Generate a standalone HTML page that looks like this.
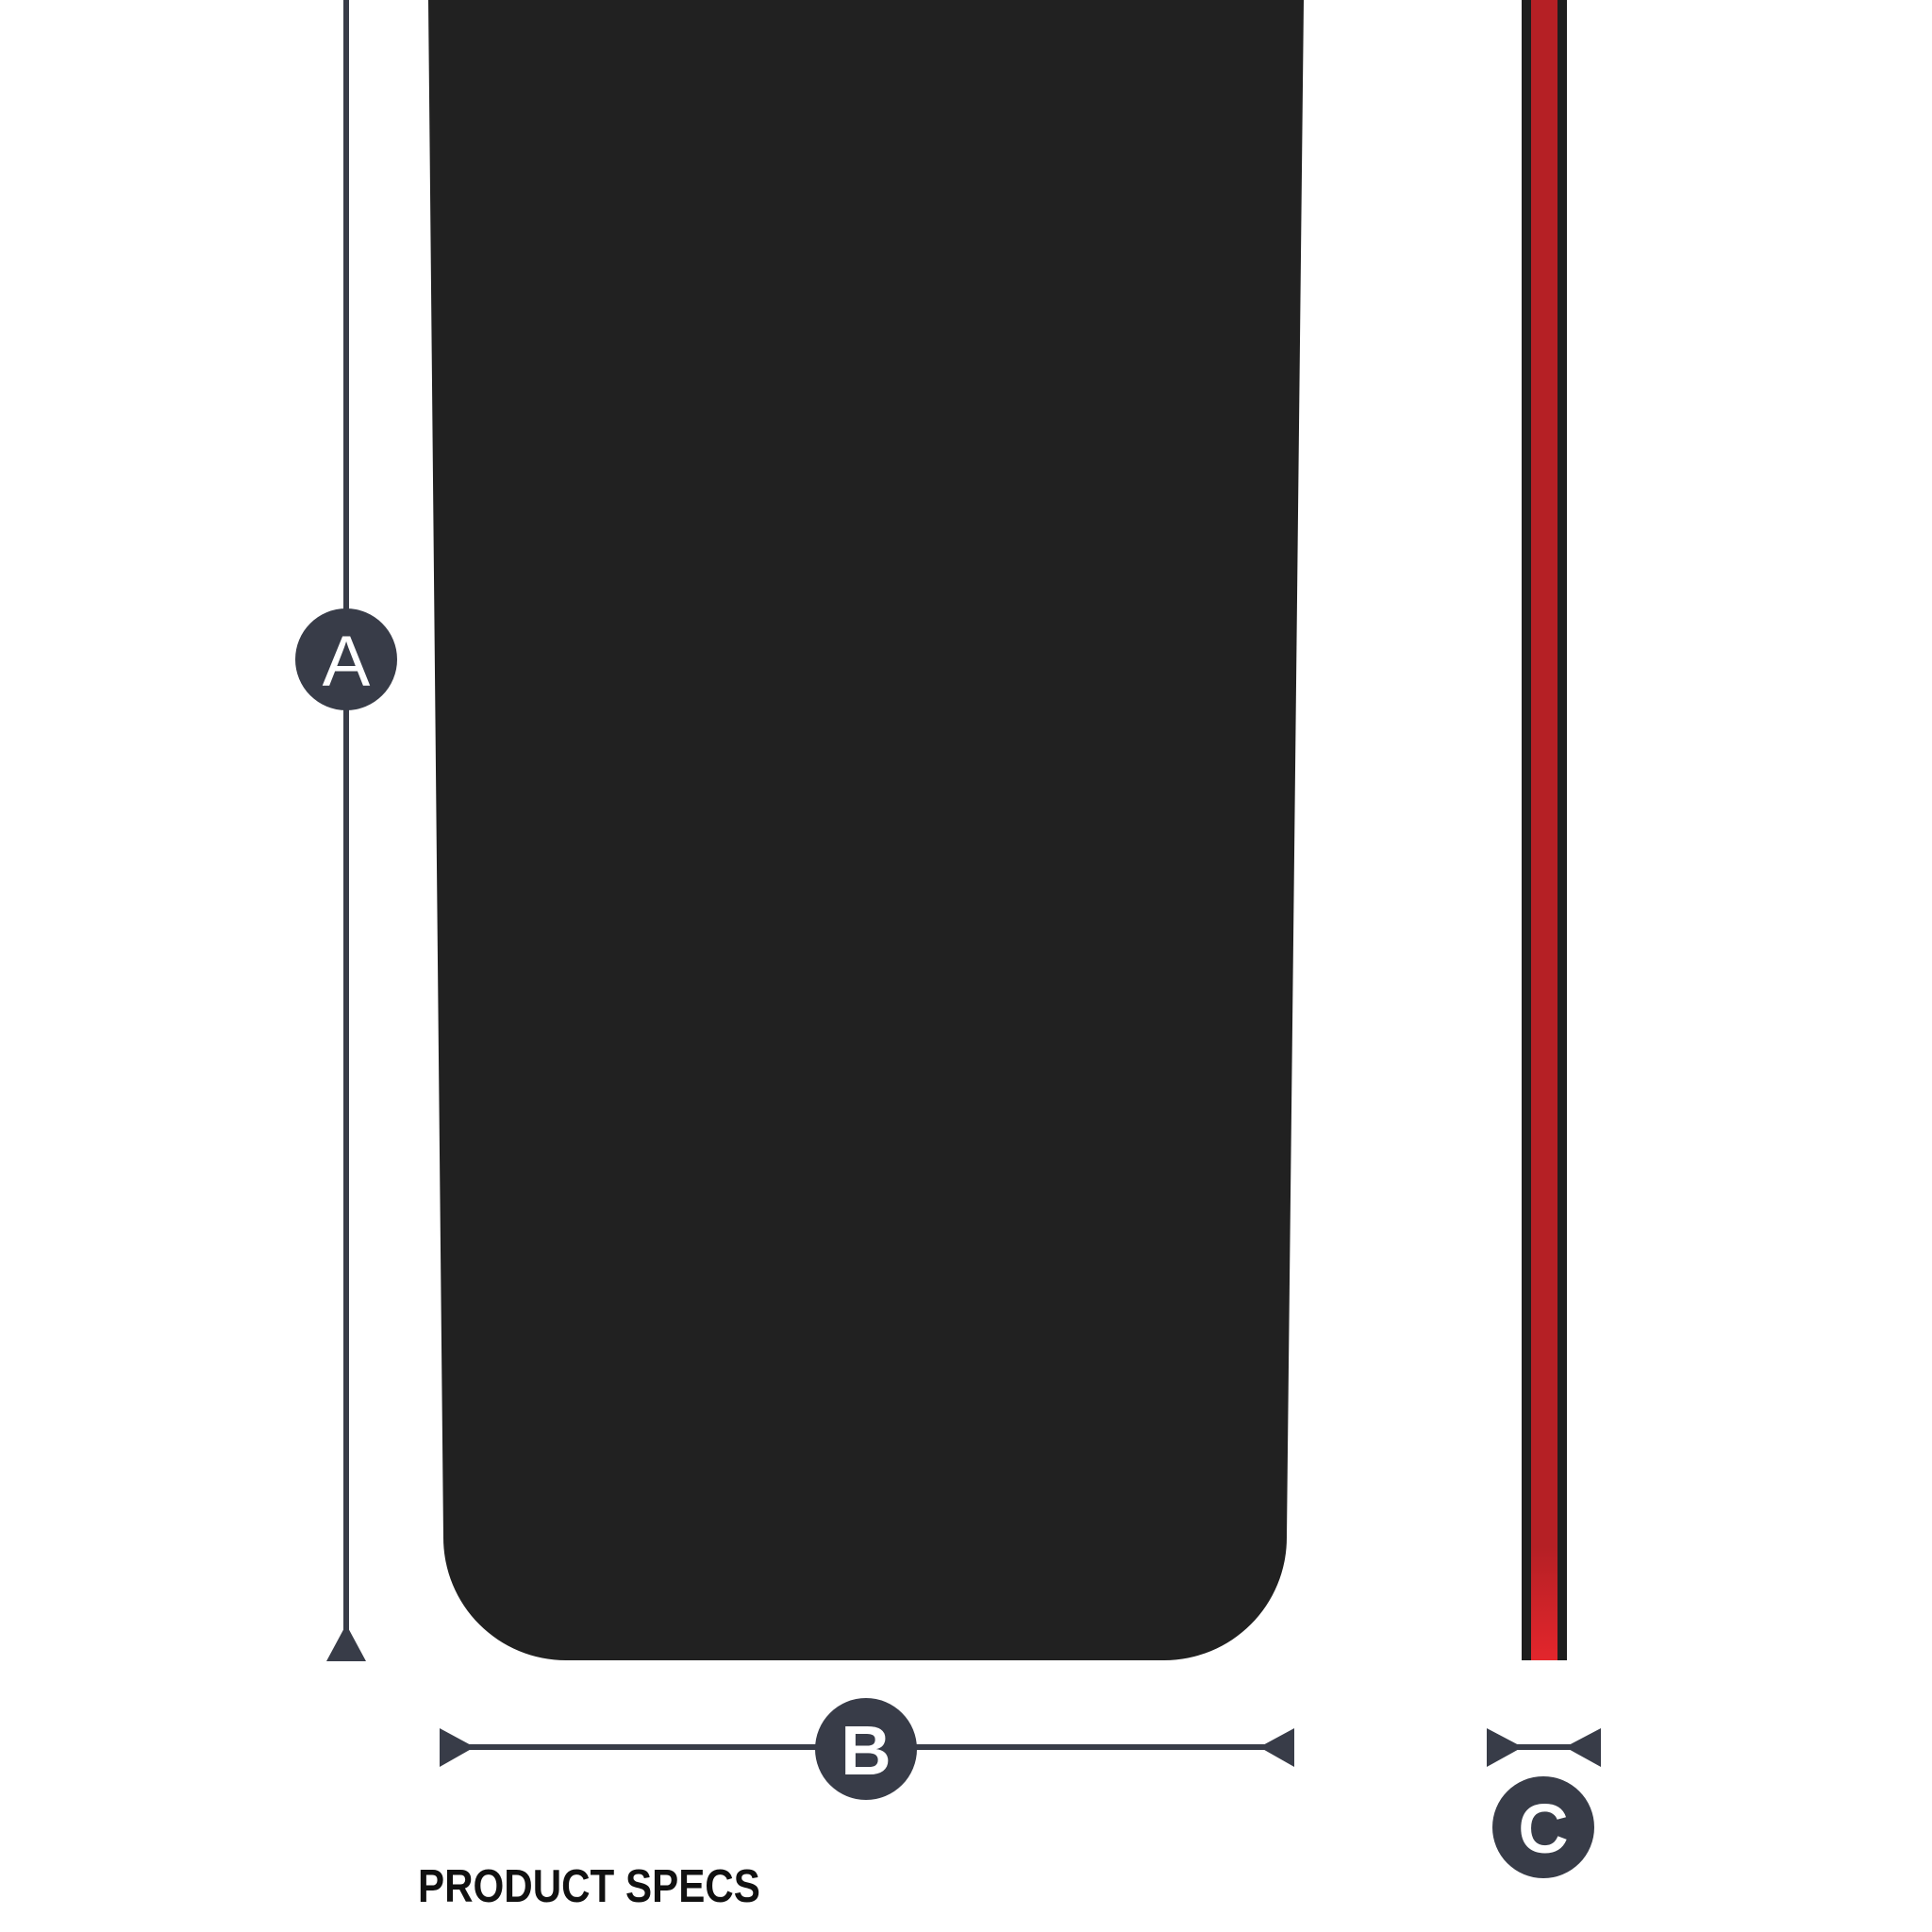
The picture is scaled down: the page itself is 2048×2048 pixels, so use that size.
<!DOCTYPE html>
<html><head><meta charset="utf-8"><style>
html,body{margin:0;padding:0;background:#fff;}
svg{display:block}
</style></head><body>
<svg width="2048" height="2048" viewBox="0 0 2048 2048" xmlns="http://www.w3.org/2000/svg">
<defs>
<linearGradient id="rg" x1="0" y1="0" x2="0" y2="1">
<stop offset="0" stop-color="#b52025"/><stop offset="1" stop-color="#e3262c"/>
</linearGradient>
</defs>
<rect width="2048" height="2048" fill="#fff"/>
<path d="M454 0 L1382 0 L1364 1630 A130 130 0 0 1 1234 1760 L600 1760 A130 130 0 0 1 470 1630 Z" fill="#212121"/>
<rect x="1613" y="0" width="48" height="1760" fill="#1e1e1e"/>
<rect x="1623" y="0" width="28" height="1760" fill="#b52025"/>
<rect x="1623" y="1640" width="28" height="120" fill="url(#rg)"/>
<rect x="364" y="0" width="6" height="1735" fill="#383c48"/>
<polygon points="367,1722 346,1761 388,1761" fill="#383c48"/>
<circle cx="367" cy="699" r="54" fill="#383c48"/>
<text x="367" y="727" text-anchor="middle" font-family="Liberation Sans, sans-serif" font-size="76" fill="#fff">A</text>
<rect x="480" y="1849" width="880" height="6" fill="#383c48"/>
<polygon points="466,1832 503,1852 466,1873" fill="#383c48"/>
<polygon points="1372,1832 1335,1852 1372,1873" fill="#383c48"/>
<circle cx="918" cy="1854" r="54" fill="#383c48"/>
<text x="918" y="1881" text-anchor="middle" font-family="Liberation Sans, sans-serif" font-size="74" font-weight="bold" fill="#fff">B</text>
<rect x="1600" y="1849" width="72" height="6" fill="#383c48"/>
<polygon points="1576,1832 1614,1852 1576,1873" fill="#383c48"/>
<polygon points="1697,1832 1659,1852 1697,1873" fill="#383c48"/>
<circle cx="1636" cy="1937" r="54" fill="#383c48"/>
<text x="1636" y="1964" text-anchor="middle" font-family="Liberation Sans, sans-serif" font-size="74" font-weight="bold" fill="#fff">C</text>
<text x="443" y="2016" font-family="Liberation Sans, sans-serif" font-size="49" font-weight="bold" fill="#111" transform="translate(443 0) scale(0.86 1) translate(-443 0)">PRODUCT SPECS</text>
</svg>
</body></html>
